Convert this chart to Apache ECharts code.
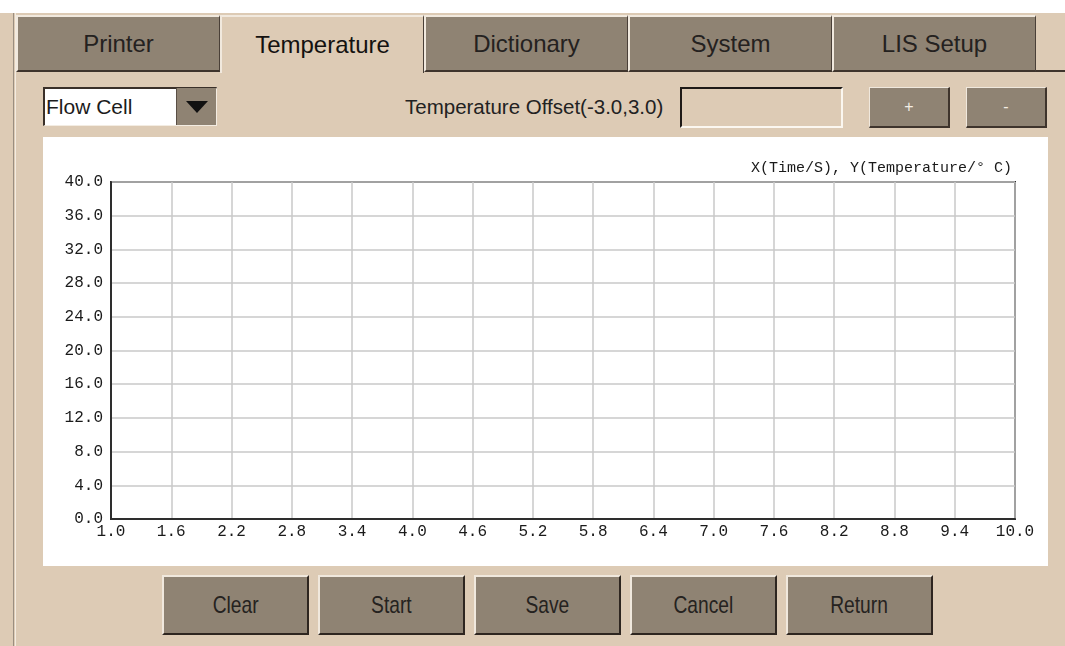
<!DOCTYPE html>
<html>
<head>
<meta charset="utf-8">
<script src="https://cdn.jsdelivr.net/npm/echarts@6/dist/echarts.min.js"></script>
<style>
  html,body{margin:0;padding:0;}
  body{width:1065px;height:646px;position:relative;overflow:hidden;background:#ddcbb5;font-family:"Liberation Sans",Arial,sans-serif;color:#222;}
  .abs{position:absolute;box-sizing:border-box;}
  #topstrip{left:0;top:0;width:1065px;height:13px;background:#ffffff;}
  #frameL{left:13px;top:13px;width:3px;height:633px;border-left:1px solid #9a8e80;border-right:1px solid #f3ebe0;}
  .tab{top:15px;height:57px;width:204px;background:#8f8373;border-top:2px solid #f1e9de;border-left:2px solid #f1e9de;border-right:1px solid #4a4038;border-bottom:2px solid #3e342c;font-size:24px;display:flex;align-items:center;justify-content:center;color:#242120;}
  .tab.active{background:#ddcbb5;border-bottom:none;height:58px;color:#141210;}
  #tabline{left:1036px;top:70px;width:29px;height:2px;background:#3e342c;}
  #dd{left:43px;top:87px;width:174px;height:39px;border-top:2px solid #3a3029;border-left:2px solid #3a3029;border-bottom:1px solid #f3ece2;border-right:1px solid #f3ece2;background:#fff;}
  #ddtext{left:46px;top:87px;height:39px;font-size:21px;display:flex;align-items:center;color:#1c1c1c;}
  #ddbtn{left:176px;top:88px;width:40px;height:37px;background:#8f8373;border-left:1px solid #5a4f45;}
  #ddarrow{left:186px;top:101px;width:0;height:0;border-left:11px solid transparent;border-right:11px solid transparent;border-top:12px solid #111;}
  #offtext{left:405px;top:87px;height:39px;font-size:20.5px;display:flex;align-items:center;color:#222;}
  #inbox{left:680px;top:87px;width:163px;height:41px;border-top:2px solid #1e1a17;border-left:2px solid #1e1a17;border-bottom:2px solid #fbf7f0;border-right:2px solid #fbf7f0;background:#ddcbb5;}
  .sbtn{top:87px;height:41px;width:81px;background:#8f8373;border-top:1px solid #f0e8dd;border-left:1px solid #f0e8dd;border-bottom:2px solid #3e342c;border-right:2px solid #3e342c;display:flex;align-items:center;justify-content:center;font-size:16px;color:#f3ede4;}
  #chart{left:43px;top:137px;width:1005px;height:429px;background:#ffffff;}
  .bbtn{top:575px;height:60px;width:147px;background:#8f8373;border-top:2px solid #f0e8dd;border-left:2px solid #f0e8dd;border-bottom:2px solid #2e2620;border-right:2px solid #2e2620;display:flex;align-items:center;justify-content:center;font-size:24px;color:#252220;}
  .bbtn span{display:inline-block;transform:scaleX(0.8);}
</style>
</head>
<body>
<div class="abs" id="topstrip"></div>
<div class="abs" id="frameL"></div>
<div class="abs tab" style="left:16px;">Printer</div>
<div class="abs tab active" style="left:220px;">Temperature</div>
<div class="abs tab" style="left:424px;">Dictionary</div>
<div class="abs tab" style="left:628px;">System</div>
<div class="abs tab" style="left:832px;">LIS Setup</div>
<div class="abs" id="tabline"></div>

<div class="abs" id="dd"></div>
<div class="abs" id="ddtext">Flow Cell</div>
<div class="abs" id="ddbtn"></div>
<div class="abs" id="ddarrow"></div>
<div class="abs" id="offtext">Temperature Offset(-3.0,3.0)</div>
<div class="abs" id="inbox"></div>
<div class="abs sbtn" style="left:869px;">+</div>
<div class="abs sbtn" style="left:966px;">-</div>

<div class="abs" id="chart"></div>

<div class="abs bbtn" style="left:162px;"><span>Clear</span></div>
<div class="abs bbtn" style="left:318px;"><span>Start</span></div>
<div class="abs bbtn" style="left:474px;"><span>Save</span></div>
<div class="abs bbtn" style="left:630px;"><span>Cancel</span></div>
<div class="abs bbtn" style="left:786px;"><span>Return</span></div>

<script>
// ---- chart data ----
const chartTitle = 'X(Time/S), Y(Temperature/\u00B0 C)';
const timeLabels = ['1.0','1.6','2.2','2.8','3.4','4.0','4.6','5.2','5.8','6.4','7.0','7.6','8.2','8.8','9.4','10.0'];
const tempMin = 0;
const tempMax = 40;
const tempStep = 4;
// no temperature readings recorded yet (the plot is empty)
const temperatureReadings = [];

const chart = echarts.init(document.getElementById('chart'), null, {renderer: 'canvas'});
const monoFont = '"Liberation Mono","DejaVu Sans Mono",monospace';
chart.setOption({
  animation: false,
  backgroundColor: '#ffffff',
  title: {
    text: chartTitle,
    right: 31,
    top: 19,
    textStyle: {fontFamily: monoFont, fontSize: 15, fontWeight: 'normal', color: '#1a1a1a'}
  },
  grid: {
    left: 68, right: 33, top: 45, bottom: 47,
    show: true, borderColor: '#2e2e2e', borderWidth: 2, backgroundColor: 'transparent'
  },
  xAxis: {
    type: 'category',
    data: timeLabels,
    boundaryGap: false,
    axisLine: {show: true, lineStyle: {color: '#2e2e2e', width: 2}},
    axisTick: {show: false},
    splitLine: {show: true, lineStyle: {color: '#c8c8c8', width: 1.5}},
    axisLabel: {fontFamily: monoFont, fontSize: 16, color: '#1a1a1a', margin: 5, interval: 0}
  },
  yAxis: {
    type: 'value',
    min: tempMin, max: tempMax, interval: tempStep,
    axisLine: {show: true, lineStyle: {color: '#2e2e2e', width: 2}},
    axisTick: {show: false},
    splitLine: {show: true, lineStyle: {color: '#c8c8c8', width: 1.5}},
    axisLabel: {fontFamily: monoFont, fontSize: 16, color: '#1a1a1a', margin: 8,
      formatter: v => v.toFixed(1)}
  },
  series: [{
    type: 'line',
    name: 'Temperature',
    data: temperatureReadings,
    showSymbol: false,
    lineStyle: {color: '#d02020', width: 2}
  }]
});
</script>
</body>
</html>
